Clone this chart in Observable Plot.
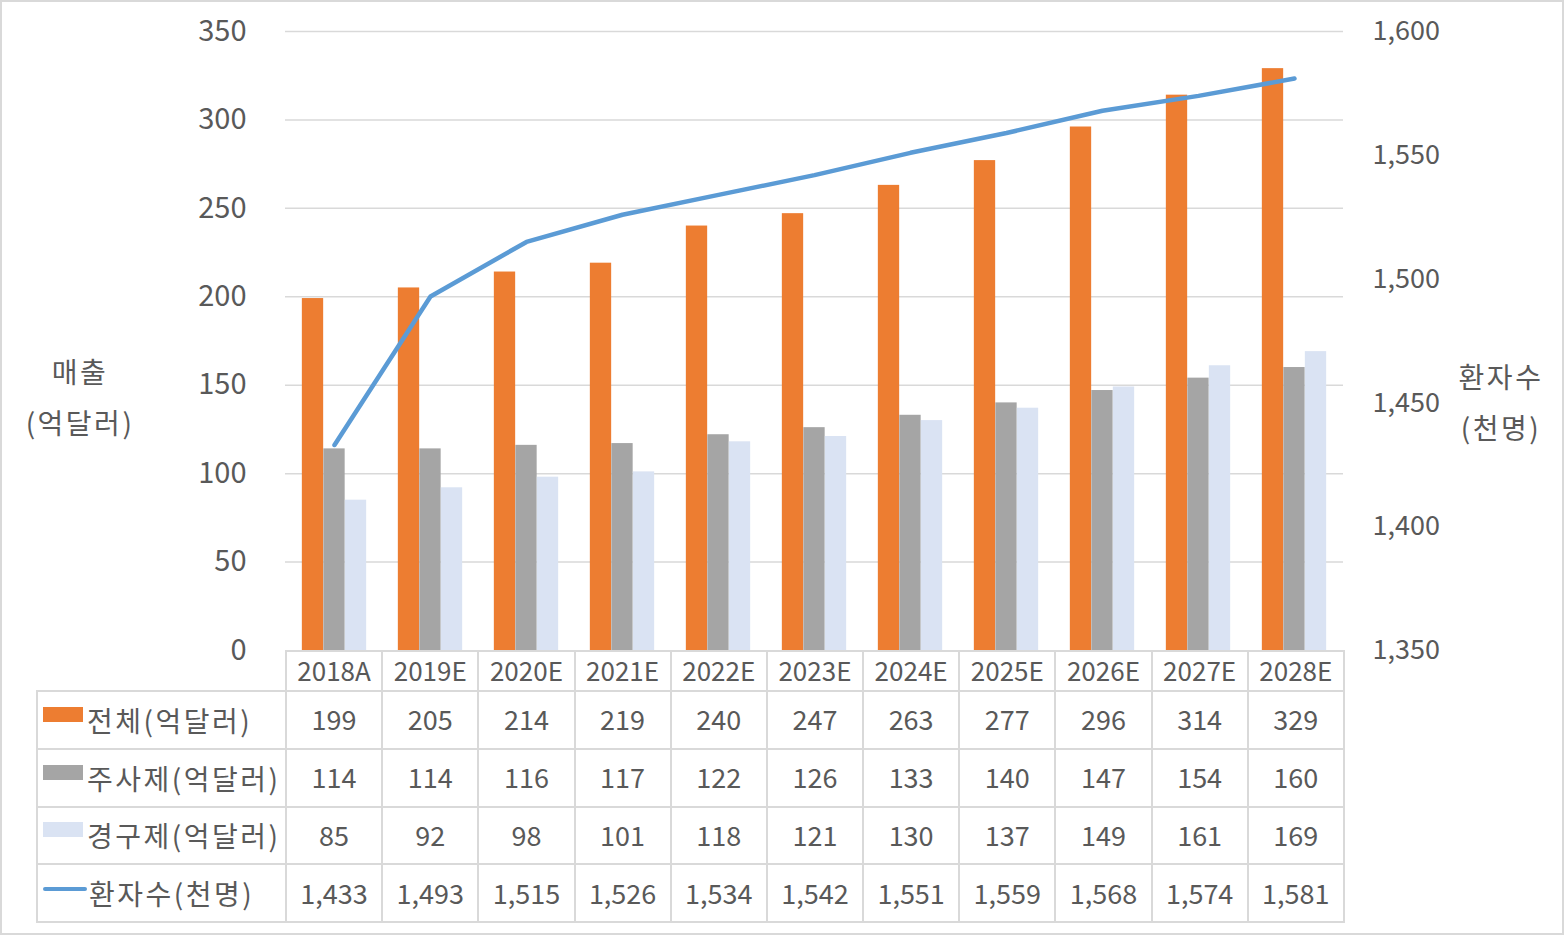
<!DOCTYPE html>
<html>
<head>
<meta charset="utf-8">
<script src="https://cdn.jsdelivr.net/npm/d3@7"></script>
<script src="https://cdn.jsdelivr.net/npm/@observablehq/plot@0.6"></script>
<style>
  html, body { margin: 0; padding: 0; background: #fff; }
  #wrap { position: relative; width: 1564px; height: 935px; overflow: hidden;
          font-family: 'Noto Sans CJK KR', 'Noto Sans', sans-serif; color: #595959; }
  #frame { position: absolute; left: 0; top: 0; width: 1560px; height: 931px; border: 2px solid #d9d9d9; pointer-events: none; }
  #chart { position: absolute; left: 0; top: 0; }
  .atitle { position: absolute; font-size: 28px; letter-spacing: 2.5px; text-align: center; line-height: 51px; width: 180px; }
  table { position: absolute; left: 36px; top: 650px; border-collapse: collapse; table-layout: fixed; }
  td { border: 2px solid #d9d9d9; text-align: center; padding: 0; font-size: 27px; color: #595959; white-space: nowrap; }
  tr.head td { height: 38px; font-size: 26px; }
  tr.head td span { position: relative; top: -2px; }
  tr.row td { height: 55.75px; }
  tr.row td span.v { position: relative; top: -1px; }
  td.lab { text-align: left; padding-left: 5px; font-size: 28px; letter-spacing: 2.5px; }
  .key { display: inline-block; width: 40px; height: 15px; vertical-align: 10px; margin-right: 4px; }
  .lkey { display: inline-block; width: 44px; height: 4px; border-radius: 2px; background: #5b9bd5; vertical-align: 14px; margin-right: 2px; }
</style>
</head>
<body>
<div id="wrap">
  <div id="chart"></div>
  <div class="atitle" style="left:-10px; top:346px;">매출<br>(억달러)</div>
  <div class="atitle" style="left:1411px; top:351px;">환자수<br>(천명)</div>
  <table id="tbl"></table>
  <div id="frame"></div>
</div>
<script>
const categories = ["2018A","2019E","2020E","2021E","2022E","2023E","2024E","2025E","2026E","2027E","2028E"];
const totalSales = [199,205,214,219,240,247,263,277,296,314,329];
const injectionSales = [114,114,116,117,122,126,133,140,147,154,160];
const oralSales = [85,92,98,101,118,121,130,137,149,161,169];
const patients = [1433,1493,1515,1526,1534,1542,1551,1559,1568,1574,1581];
const leftTicks = [0,50,100,150,200,250,300,350];
const rightTicks = [1350,1400,1450,1500,1550,1600];

const seriesNames = ["전체(억달러)","주사제(억달러)","경구제(억달러)","환자수(천명)"];
const colors = ["#ed7d31","#a5a5a5","#dae3f3","#5b9bd5"];

const data = categories.map((c, i) => ({cat: c, total: totalSales[i], inj: injectionSales[i], oral: oralSales[i], pat: patients[i]}));

// right axis mapped onto the left axis domain
const rMin = 1350, rMax = 1600, lMax = 350;
const toLeft = v => (v - rMin) * lMax / (rMax - rMin);
const toRight = v => rMin + v * (rMax - rMin) / lMax;

const W = 1564, H = 935;
const mL = 285, mR = 221, mT = 31, mB = 285;
const bw = (W - mL - mR) / categories.length;
const barW = 21.5;
const off = (bw - 3 * barW) / 2;

const chart = Plot.plot({
  width: W, height: H,
  marginLeft: mL, marginRight: mR, marginTop: mT, marginBottom: mB,
  style: {fontFamily: "'Noto Sans CJK KR', 'Noto Sans', sans-serif", fontSize: "27px", color: "#595959", background: "transparent"},
  x: {type: "band", domain: categories, paddingInner: 0, paddingOuter: 0, axis: null},
  y: {domain: [0, lMax], axis: null},
  marks: [
    Plot.gridY(leftTicks.slice(1), {stroke: "#d9d9d9", strokeOpacity: 1, strokeWidth: 1.5}),
    Plot.axisY(leftTicks, {anchor: "left", tickSize: 0, tickPadding: 39, label: null, fill: "#595959", fontSize: 29}),
    Plot.axisY(rightTicks.map(toLeft), {anchor: "right", tickSize: 0, tickPadding: 29, label: null, fill: "#595959", fontSize: 27,
      tickFormat: d => d3.format(",")(Math.round(toRight(d)))}),
    Plot.barY(data, {x: "cat", y: "total", fill: colors[0], insetLeft: off, insetRight: bw - off - barW}),
    Plot.barY(data, {x: "cat", y: "inj", fill: colors[1], insetLeft: off + barW, insetRight: bw - off - 2 * barW}),
    Plot.barY(data, {x: "cat", y: "oral", fill: colors[2], insetLeft: off + 2 * barW, insetRight: off}),
    Plot.line(data, {x: "cat", y: d => toLeft(d.pat), stroke: colors[3], strokeWidth: 4.5, strokeLinecap: "round", strokeLinejoin: "round"})
  ]
});
document.getElementById("chart").appendChild(chart);

// data table
const tbl = document.getElementById("tbl");
const colgroup = document.createElement("colgroup");
const c0 = document.createElement("col"); c0.style.width = "249px"; colgroup.appendChild(c0);
categories.forEach(() => { const c = document.createElement("col"); c.style.width = bw + "px"; colgroup.appendChild(c); });
tbl.appendChild(colgroup);
const head = document.createElement("tr"); head.className = "head";
const h0 = document.createElement("td"); h0.style.borderTop = "none"; h0.style.borderLeft = "none"; head.appendChild(h0);
categories.forEach(c => { const td = document.createElement("td"); const s = document.createElement("span"); s.textContent = c; td.appendChild(s); head.appendChild(td); });
tbl.appendChild(head);
const rows = [totalSales, injectionSales, oralSales, patients];
rows.forEach((vals, r) => {
  const tr = document.createElement("tr"); tr.className = "row";
  const lab = document.createElement("td"); lab.className = "lab";
  const k = document.createElement("span");
  if (r < 3) { k.className = "key"; k.style.background = colors[r]; } else { k.className = "lkey"; }
  lab.appendChild(k);
  lab.appendChild(document.createTextNode(seriesNames[r]));
  tr.appendChild(lab);
  vals.forEach(v => { const td = document.createElement("td"); const s = document.createElement("span"); s.className = "v"; s.textContent = d3.format(",")(v); td.appendChild(s); tr.appendChild(td); });
  tbl.appendChild(tr);
});
</script>
</body>
</html>
